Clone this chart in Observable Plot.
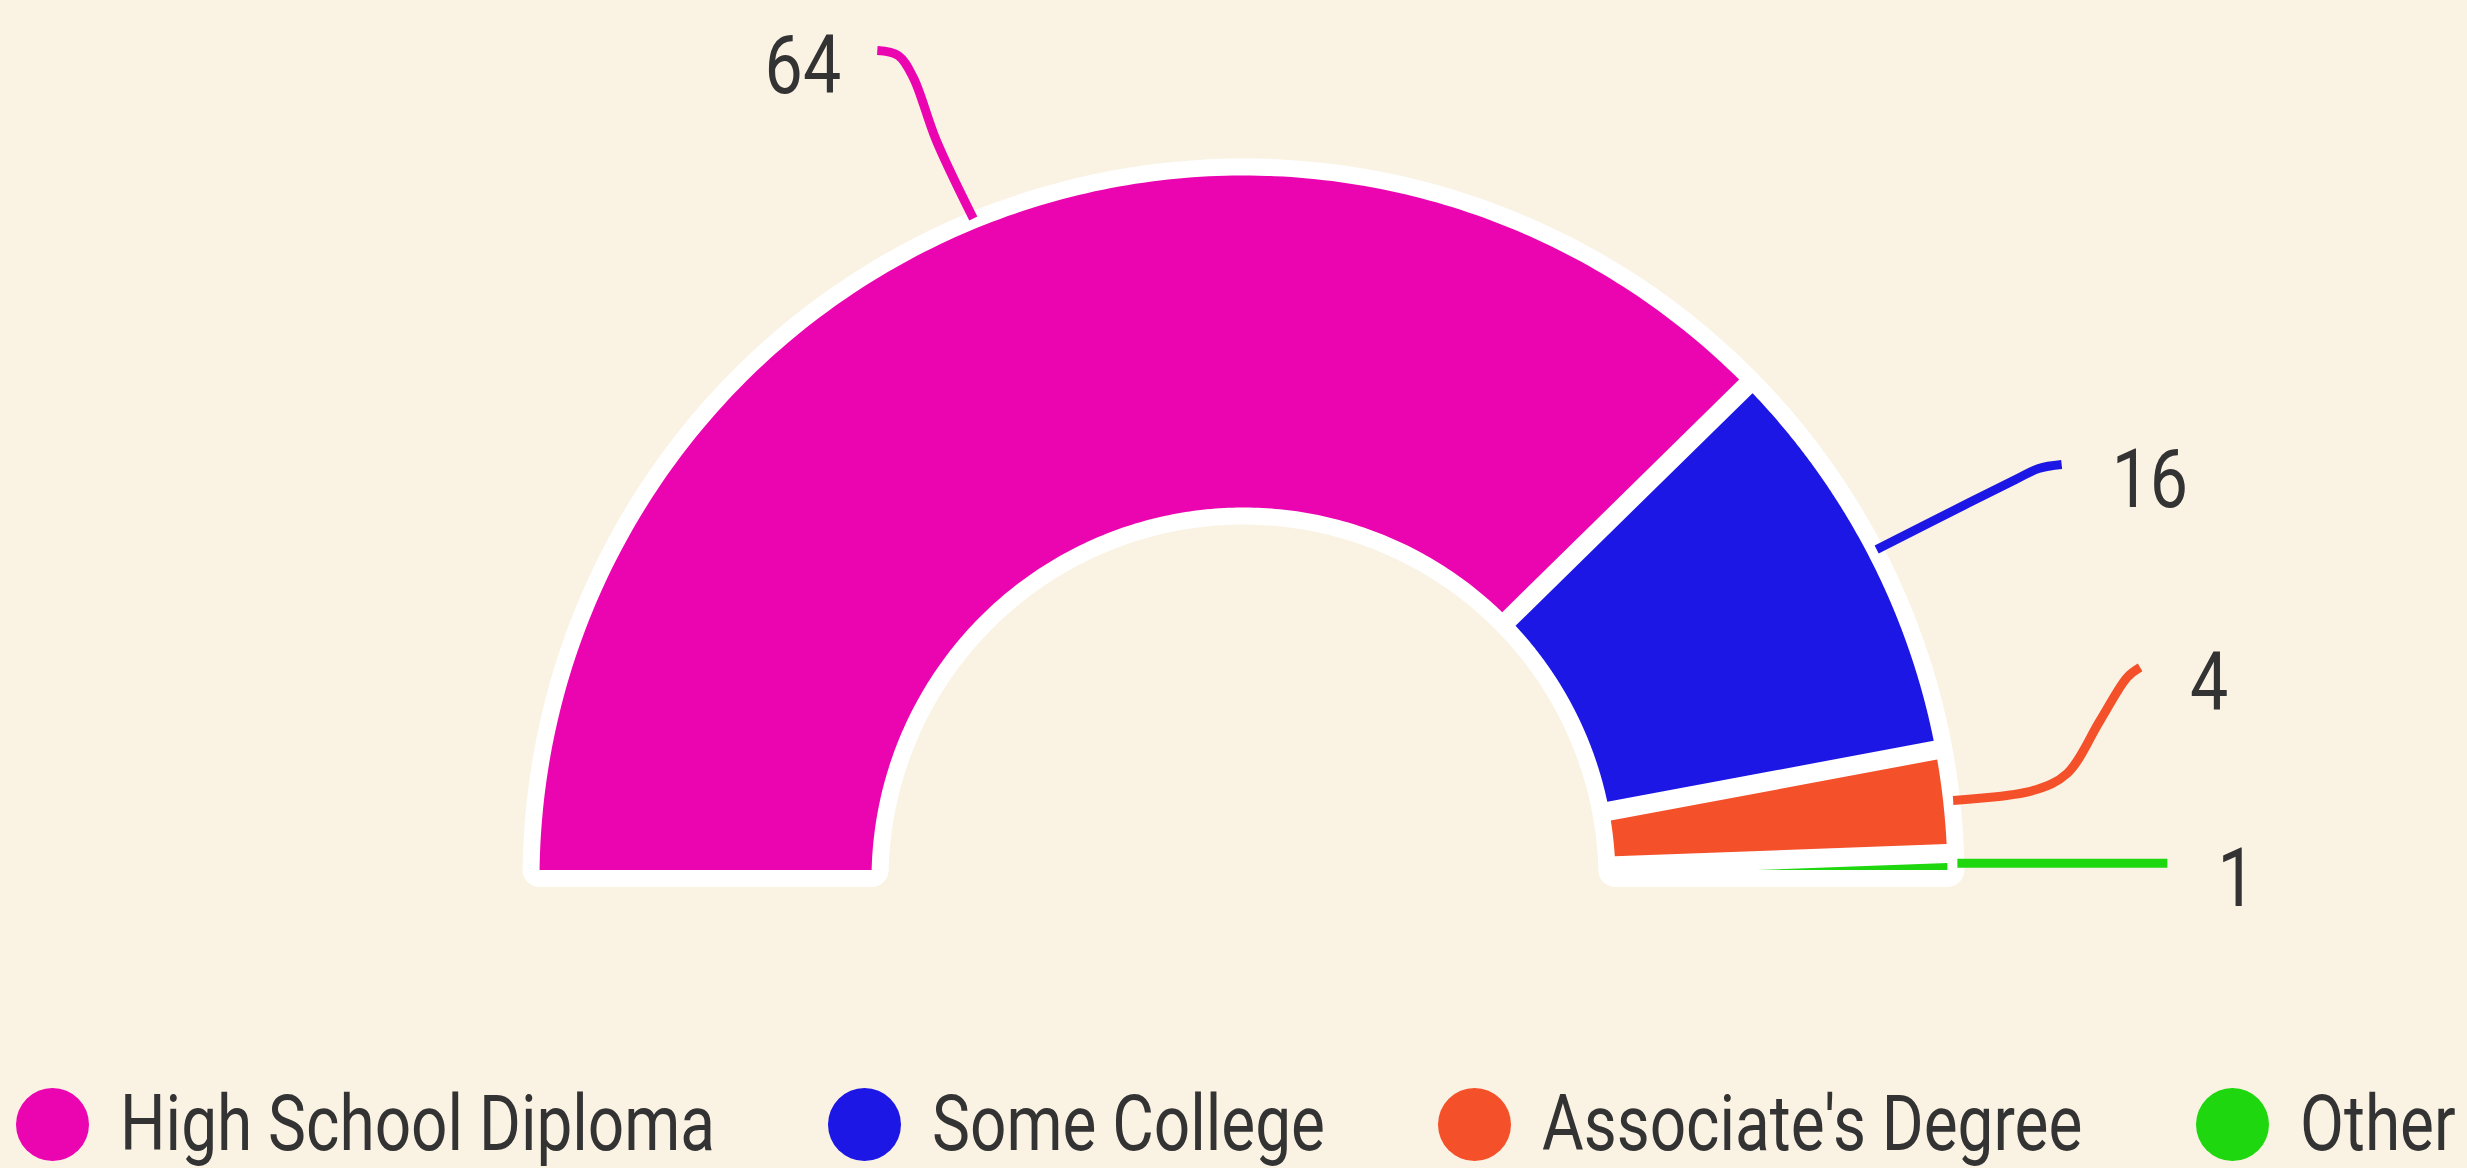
<!DOCTYPE html>
<html>
<head>
<meta charset="utf-8">
<script src="https://cdn.jsdelivr.net/npm/d3@7"></script>
<script src="https://cdn.jsdelivr.net/npm/@observablehq/plot@0.6"></script>
<style>
  html, body { margin: 0; padding: 0; background: #faf3e4; overflow: hidden; }
  #wrap { width: 2467px; height: 1168px; background: #faf3e4; overflow: hidden; }
  #legend {
    height: 88px; padding-top: 30px; padding-left: 16px;
    display: flex; align-items: center; white-space: nowrap; overflow: hidden;
    font-family: Roboto, sans-serif; font-size: 77px; color: #333333;
  }
  .item { display: flex; align-items: center; margin-right: 113px; flex: none; }
  .sw { width: 73px; height: 73px; border-radius: 50%; margin-right: 31px; flex: none; }
  .lt { display: inline-block; transform: scaleX(0.83); transform-origin: 0 50%; }
</style>
</head>
<body>
<div id="wrap"><div id="chart"></div><div id="legend"></div></div>
<script>
// ---- data ----
const categories = ["High School Diploma", "Some College", "Associate's Degree", "Other"];
const values = [64, 16, 4, 1];
const colors = ["#eb05b0", "#1d17e5", "#f4512b", "#1fd70f"];

// ---- layout ----
const W = 2467, H = 1050;
const cx = 1243, cy = 879, R = 704, rInner = 372;
const halfGap = 9.5, border = 34, condense = 0.83;
const rU = rInner / R, hU = halfGap / R, anchorR = 714 / R;
// leader line bends, pixel offsets from the slice's mid-angle anchor
const leaderBends = [
  [[0, 0], [-37, -78], [-60, -141], [-75, -163], [-96, -168]],
  [[0, 0], [79, -40], [139, -70], [162, -81], [185, -85]],
  [[0, 0], [80, -10], [114, -27], [147, -80], [174, -123], [187, -133]],
  [[0, -3], [210, -3]]
];

const N = 200;
function arcPts(r, a0, a1, extra) {
  const out = [];
  for (let k = 0; k <= N; k++) {
    const a = a0 + (a1 - a0) * k / N;
    out.push({...extra, x: r * Math.cos(a), y: r * Math.sin(a)});
  }
  return out;
}

// white backing: the whole padded half ring, stroked thick
const dO = Math.asin(hU), dI = Math.asin(hU / rU);
const backing = [
  ...arcPts(1, Math.PI - dO, dO, {cat: "bg"}),
  ...arcPts(rU, dI, Math.PI - dI, {cat: "bg"})
];
backing.push({...backing[0]});

const total = d3.sum(values);
const polys = [], leaders = [], labels = [];
let cum = 0;
categories.forEach((cat, i) => {
  const t0 = Math.PI - Math.PI * cum / total;
  const t1 = Math.PI - Math.PI * (cum + values[i]) / total;
  cum += values[i];
  const pts = arcPts(1, t0 - dO, t1 + dO, {cat});
  if (t0 - t1 - 2 * dI > 0) {
    pts.push(...arcPts(rU, t1 + dI, t0 - dI, {cat}));
  } else {
    const mid = (t0 + t1) / 2, rho = hU / Math.sin((t0 - t1) / 2);
    pts.push({cat, x: rho * Math.cos(mid), y: rho * Math.sin(mid)});
  }
  pts.push({...pts[0]});
  polys.push(...pts);

  const mid = (t0 + t1) / 2;
  const ax = anchorR * Math.cos(mid), ay = anchorR * Math.sin(mid);
  const bends = leaderBends[i];
  bends.forEach(([dx, dy]) => leaders.push({cat, x: ax + dx / R, y: ay - dy / R}));
  const last = bends[bends.length - 1];
  labels.push({cat, value: values[i], x: ax + last[0] / R, y: ay - last[1] / R, left: last[0] < 0});
});

const plot = Plot.plot({
  width: W, height: H, margin: 0,
  style: {background: "transparent", overflow: "visible"},
  x: {domain: [-1, 1], range: [cx - R, cx + R], axis: null},
  y: {domain: [-1, 1], range: [cy + R, cy - R], axis: null},
  color: {domain: categories, range: colors},
  marks: [
    Plot.line(backing, {x: "x", y: "y", fill: "white", stroke: "white", strokeWidth: border, strokeLinejoin: "round"}),
    Plot.line(polys, {x: "x", y: "y", z: "cat", fill: "cat", stroke: "none"}),
    Plot.line(leaders, {x: "x", y: "y", z: "cat", stroke: "cat", strokeWidth: 9, curve: "catmull-rom", strokeLinecap: "butt"}),
    Plot.text(labels.filter(d => d.left), {x: "x", y: "y", text: "value", textAnchor: "end", dx: -36, dy: 16, fontSize: 82, fontFamily: "Roboto", fill: "#333333"}),
    Plot.text(labels.filter(d => !d.left), {x: "x", y: "y", text: "value", textAnchor: "start", dx: 50, dy: 16, fontSize: 82, fontFamily: "Roboto", fill: "#333333"})
  ]
});
// condensed look for value labels
plot.querySelectorAll("text").forEach(t => {
  const tr = t.getAttribute("transform") || "";
  t.setAttribute("transform", tr + ` scale(${condense},1)`);
});
document.getElementById("chart").appendChild(plot);

const legend = document.getElementById("legend");
categories.forEach((cat, i) => {
  const it = document.createElement("div");
  it.className = "item";
  const sw = document.createElement("div");
  sw.className = "sw";
  sw.style.background = colors[i];
  const tx = document.createElement("span");
  tx.className = "lt";
  tx.textContent = cat;
  it.appendChild(sw); it.appendChild(tx);
  legend.appendChild(it);
  tx.style.marginRight = (-(1 - condense) * tx.offsetWidth) + "px";
});
</script>
</body>
</html>
